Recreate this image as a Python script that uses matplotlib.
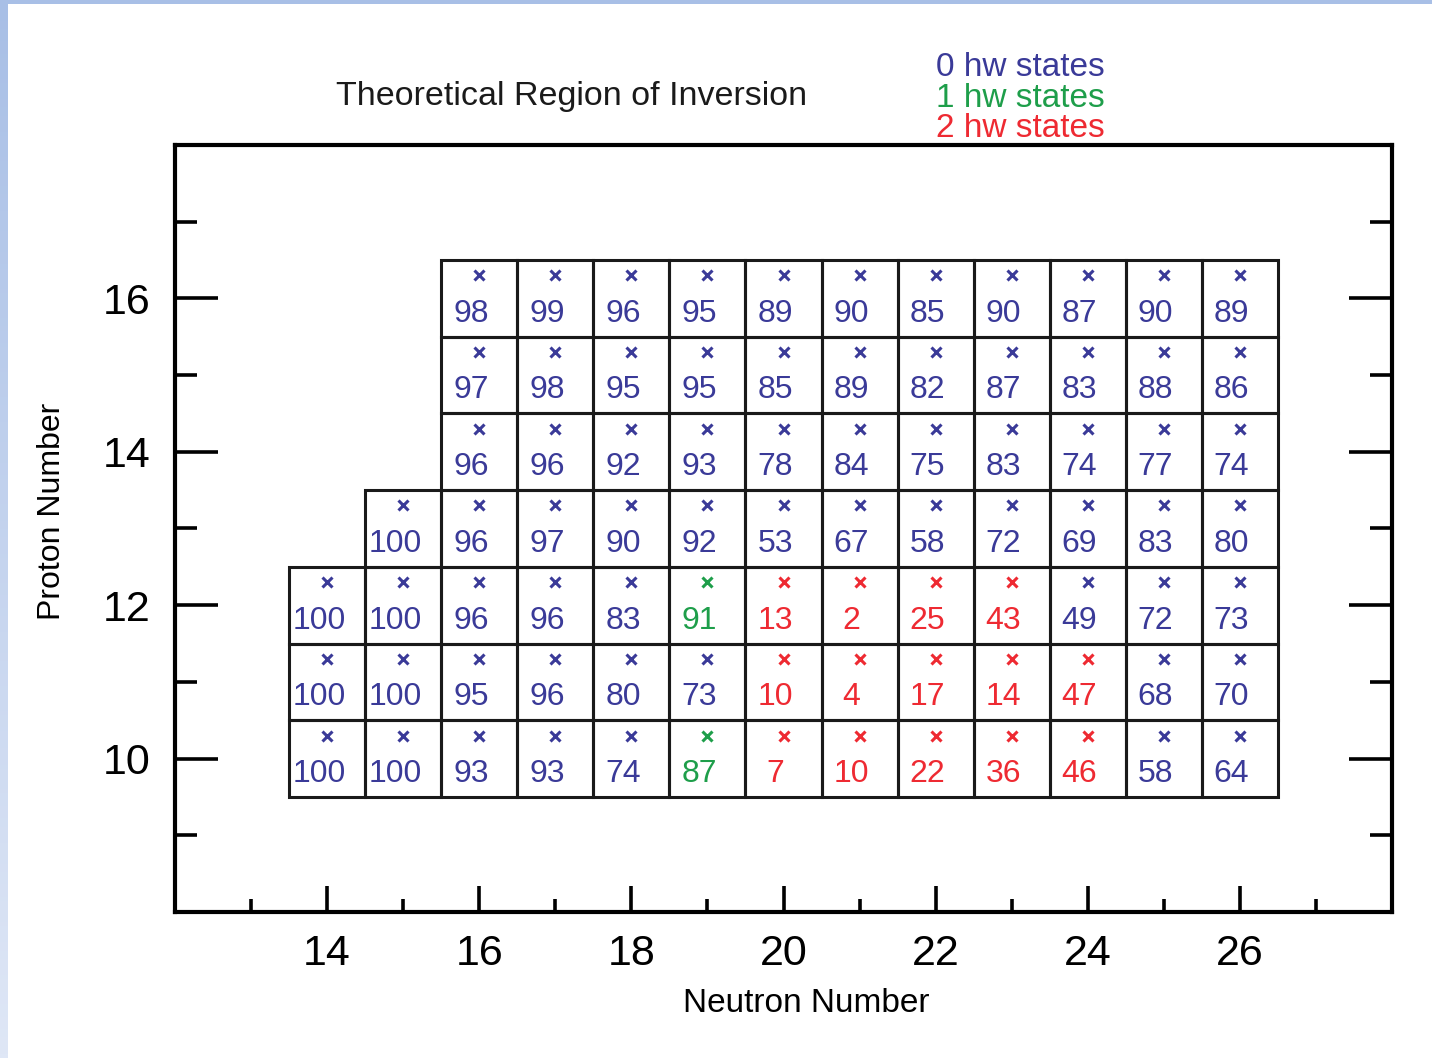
"""Theoretical region of inversion: percentage chart over neutron / proton number."""
import numpy as np
import matplotlib
matplotlib.use("Agg")
import matplotlib.pyplot as plt
from matplotlib.patches import Rectangle
from matplotlib.colors import LinearSegmentedColormap

plt.rcParams["font.family"] = ["Liberation Sans", "DejaVu Sans"]

# rows of the chart: proton number -> (first neutron number, values, states)
Z_ROWS = [16, 15, 14, 13, 12, 11, 10]
N_START = [16, 16, 16, 15, 14, 14, 14]
VALUES = [
    [98, 99, 96, 95, 89, 90, 85, 90, 87, 90, 89],
    [97, 98, 95, 95, 85, 89, 82, 87, 83, 88, 86],
    [96, 96, 92, 93, 78, 84, 75, 83, 74, 77, 74],
    [100, 96, 97, 90, 92, 53, 67, 58, 72, 69, 83, 80],
    [100, 100, 96, 96, 83, 91, 13, 2, 25, 43, 49, 72, 73],
    [100, 100, 95, 96, 80, 73, 10, 4, 17, 14, 47, 68, 70],
    [100, 100, 93, 93, 74, 87, 7, 10, 22, 36, 46, 58, 64],
]
# 0 = 0 hw, 1 = 1 hw, 2 = 2 hw
STATES = [
    [0] * 11,
    [0] * 11,
    [0] * 11,
    [0] * 12,
    [0, 0, 0, 0, 0, 1, 2, 2, 2, 2, 0, 0, 0],
    [0, 0, 0, 0, 0, 0, 2, 2, 2, 2, 2, 0, 0],
    [0, 0, 0, 0, 0, 1, 2, 2, 2, 2, 2, 0, 0],
]
STATE_LABELS = ["0 hw states", "1 hw states", "2 hw states"]
STATE_COLORS = ["#3a3a98", "#1e9e4a", "#ee2a32"]

X_MAJOR = [14, 16, 18, 20, 22, 24, 26]
X_MINOR = [13, 15, 17, 19, 21, 23, 25, 27]
Y_MAJOR = [10, 12, 14, 16]
Y_MINOR = [9, 11, 13, 15, 17]

fig = plt.figure(figsize=(14.32, 10.58), dpi=100)

# light blue slide border, left strip fading downward
bg = fig.add_axes([0, 0, 1, 1], zorder=-10)
bg.set_xlim(0, 1432)
bg.set_ylim(1058, 0)
bg.axis("off")
grad = np.linspace(0, 1, 256).reshape(-1, 1)
cm = LinearSegmentedColormap.from_list("edge", ["#a8bfe6", "#dfe7f6"])
bg.imshow(grad, cmap=cm, extent=[0, 8, 1058, 0], aspect="auto")
bg.add_patch(Rectangle((0, 0), 1432, 4, color="#a8bfe6", lw=0))

ax = fig.add_axes([175 / 1432, 1 - 912 / 1058, (1392 - 175) / 1432, (912 - 145) / 1058])
ax.set_xlim(12, 28)
ax.set_ylim(8, 18)

for z, n0, vals, sts in zip(Z_ROWS, N_START, VALUES, STATES):
    for i, (v, s) in enumerate(zip(vals, sts)):
        n = n0 + i
        ax.add_patch(Rectangle((n - 0.5, z - 0.5), 1, 1, fill=False,
                               edgecolor="#1a1a1a", lw=2.2, zorder=2))
        c = STATE_COLORS[s]
        ax.plot(n, z + 0.3, marker="x", color=c, ms=6.5, mew=2.2, zorder=3)
        ax.text(n - 0.11, z - 0.2, str(v), color=c, fontsize=23,
                ha="center", va="center", zorder=3)

ax.set_xticks(X_MAJOR)
ax.set_xticks(X_MINOR, minor=True)
ax.set_yticks(Y_MAJOR)
ax.set_yticks(Y_MINOR, minor=True)
ax.tick_params(axis="both", which="both", direction="in", width=2.6, colors="black")
ax.tick_params(axis="x", which="major", length=19, pad=16, labelsize=31, top=False)
ax.tick_params(axis="x", which="minor", length=9.5, top=False)
ax.tick_params(axis="y", which="major", length=31, pad=18, labelsize=31, right=True)
ax.tick_params(axis="y", which="minor", length=16, right=True)
for sp in ax.spines.values():
    sp.set_linewidth(3)

ax.set_xlabel("Neutron Number", fontsize=24)
ax.xaxis.set_label_coords((806 - 175) / 1217, -(1004 - 912) / 767)
ax.xaxis.label.set_va("center")
ax.set_ylabel("Proton Number", fontsize=23)
ax.yaxis.set_label_coords(-(175 - 52) / 1217, (912 - 511) / 767)
ax.yaxis.label.set_va("center")

fig.text(572 / 1432, 1 - 97 / 1058, "Theoretical Region of Inversion",
         fontsize=24.5, ha="center", va="center", color="#1a1a1a")
for k, (lab, col) in enumerate(zip(STATE_LABELS, STATE_COLORS)):
    fig.text(936 / 1432, 1 - (68 + 30.5 * k) / 1058, lab, fontsize=24,
             ha="left", va="center", color=col)

fig.savefig("out.png", dpi=100)
